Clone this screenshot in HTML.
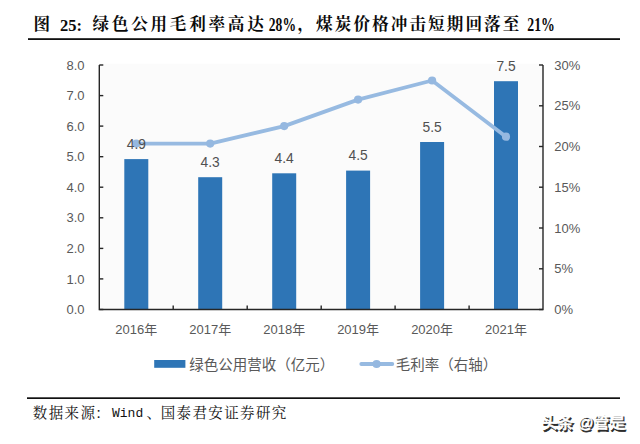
<!DOCTYPE html>
<html lang="zh"><head><meta charset="utf-8"><title>图 25</title>
<style>
html,body{margin:0;padding:0;background:#fff;}
body{width:640px;height:444px;overflow:hidden;}
svg{display:block}
.ax{font-family:"Liberation Sans","Noto Sans CJK SC",sans-serif;font-size:13px;fill:#595959}
.dl{font-family:"Liberation Sans",sans-serif;font-size:13.8px;fill:#505050}
.lg{font-family:"Liberation Sans","Noto Sans CJK SC",sans-serif;font-size:14.5px;fill:#595959}
.ttl{font-family:"Noto Serif CJK SC","Liberation Serif",serif;font-weight:700;font-size:16.6px;fill:#0a0a0a;text-anchor:middle}
.tn{font-family:"Liberation Serif",serif;font-weight:700;font-size:16.5px;fill:#0a0a0a}
.src{font-family:"Noto Serif CJK SC","Liberation Serif",serif;font-size:14.5px;font-weight:400;fill:#111;text-anchor:middle}
.tk{font-family:"Liberation Serif",serif;font-weight:700;font-size:19px;fill:#0a0a0a}
.mono{font-family:"Liberation Mono",monospace;font-size:13px;fill:#111}
.wm{font-family:"Liberation Sans","Noto Sans CJK SC",sans-serif;font-size:15.8px;font-weight:500}
</style></head><body>
<svg width="640" height="444" viewBox="0 0 640 444">
<rect width="640" height="444" fill="#ffffff"/>

<text class="ttl" x="41.8" y="30.3">图</text>
<text class="tn" x="60" y="31">25:</text>
<text class="ttl" x="100.80 120.13 139.46 158.79 178.12 197.45 216.78 236.11 255.44" y="30.3">绿色公用毛利率高达</text>
<text class="tk" x="268.8" y="31" textLength="27.2" lengthAdjust="spacingAndGlyphs">28%</text>
<text class="ttl" x="305.7" y="30.3">，</text>
<text class="ttl" x="324.40 343.06 361.72 380.38 399.04 417.70 436.36 455.02 473.68 492.34 511.00" y="30.3">煤炭价格冲击短期回落至</text>
<text class="tk" x="527.3" y="31" textLength="27.6" lengthAdjust="spacingAndGlyphs">21%</text>
<rect x="28" y="38.2" width="592" height="1.8" fill="#111"/>
<rect x="99.3" y="63.8" width="443.7" height="245.7" fill="#fbfbfb"/>
<rect x="124.3" y="159.1" width="24" height="150.4" fill="#2e75b6"/>
<rect x="198.2" y="177.2" width="24" height="132.3" fill="#2e75b6"/>
<rect x="272.2" y="173.3" width="24" height="136.2" fill="#2e75b6"/>
<rect x="346.1" y="170.6" width="24" height="138.9" fill="#2e75b6"/>
<rect x="420.1" y="142.0" width="24" height="167.5" fill="#2e75b6"/>
<rect x="494.0" y="81.2" width="24" height="228.3" fill="#2e75b6"/>
<path d="M99.3 65.0V309.5H543.0V65.0" fill="none" stroke="#262626" stroke-width="1.4"/>
<path d="M99.3 309.5h4" stroke="#262626" stroke-width="1.4"/>
<text class="ax" x="84.6" y="314.1" text-anchor="end">0.0</text>
<path d="M99.3 278.9h4" stroke="#262626" stroke-width="1.4"/>
<text class="ax" x="84.6" y="283.5" text-anchor="end">1.0</text>
<path d="M99.3 248.4h4" stroke="#262626" stroke-width="1.4"/>
<text class="ax" x="84.6" y="253.0" text-anchor="end">2.0</text>
<path d="M99.3 217.8h4" stroke="#262626" stroke-width="1.4"/>
<text class="ax" x="84.6" y="222.4" text-anchor="end">3.0</text>
<path d="M99.3 187.2h4" stroke="#262626" stroke-width="1.4"/>
<text class="ax" x="84.6" y="191.8" text-anchor="end">4.0</text>
<path d="M99.3 156.7h4" stroke="#262626" stroke-width="1.4"/>
<text class="ax" x="84.6" y="161.3" text-anchor="end">5.0</text>
<path d="M99.3 126.1h4" stroke="#262626" stroke-width="1.4"/>
<text class="ax" x="84.6" y="130.7" text-anchor="end">6.0</text>
<path d="M99.3 95.6h4" stroke="#262626" stroke-width="1.4"/>
<text class="ax" x="84.6" y="100.2" text-anchor="end">7.0</text>
<path d="M99.3 65.0h4" stroke="#262626" stroke-width="1.4"/>
<text class="ax" x="84.6" y="69.6" text-anchor="end">8.0</text>
<path d="M543.0 309.5h-4" stroke="#262626" stroke-width="1.4"/>
<text class="ax" x="554.3" y="314.1">0%</text>
<path d="M543.0 268.8h-4" stroke="#262626" stroke-width="1.4"/>
<text class="ax" x="554.3" y="273.4">5%</text>
<path d="M543.0 228.0h-4" stroke="#262626" stroke-width="1.4"/>
<text class="ax" x="554.3" y="232.6">10%</text>
<path d="M543.0 187.2h-4" stroke="#262626" stroke-width="1.4"/>
<text class="ax" x="554.3" y="191.8">15%</text>
<path d="M543.0 146.5h-4" stroke="#262626" stroke-width="1.4"/>
<text class="ax" x="554.3" y="151.1">20%</text>
<path d="M543.0 105.8h-4" stroke="#262626" stroke-width="1.4"/>
<text class="ax" x="554.3" y="110.3">25%</text>
<path d="M543.0 65.0h-4" stroke="#262626" stroke-width="1.4"/>
<text class="ax" x="554.3" y="69.6">30%</text>
<path d="M173.2 309.5v-4" stroke="#262626" stroke-width="1.4"/>
<path d="M247.2 309.5v-4" stroke="#262626" stroke-width="1.4"/>
<path d="M321.2 309.5v-4" stroke="#262626" stroke-width="1.4"/>
<path d="M395.1 309.5v-4" stroke="#262626" stroke-width="1.4"/>
<path d="M469.1 309.5v-4" stroke="#262626" stroke-width="1.4"/>
<polyline fill="none" stroke="#97bae1" stroke-width="3.8" stroke-linejoin="round" stroke-linecap="round" points="136.3,143.6 210.2,143.6 284.2,126.1 358.1,99.6 432.1,80.5 506.0,136.7"/>
<circle cx="136.3" cy="143.6" r="4.1" fill="#95b8e0"/>
<circle cx="210.2" cy="143.6" r="4.1" fill="#95b8e0"/>
<circle cx="284.2" cy="126.1" r="4.1" fill="#95b8e0"/>
<circle cx="358.1" cy="99.6" r="4.1" fill="#95b8e0"/>
<circle cx="432.1" cy="80.5" r="4.1" fill="#95b8e0"/>
<circle cx="506.0" cy="136.7" r="4.1" fill="#95b8e0"/>
<text class="dl" x="136.3" y="148.8" text-anchor="middle">4.9</text>
<text class="dl" x="210.2" y="166.9" text-anchor="middle">4.3</text>
<text class="dl" x="284.2" y="163.0" text-anchor="middle">4.4</text>
<text class="dl" x="358.1" y="160.3" text-anchor="middle">4.5</text>
<text class="dl" x="432.1" y="131.7" text-anchor="middle">5.5</text>
<text class="dl" x="506.0" y="70.9" text-anchor="middle">7.5</text>
<text class="ax" x="136.3" y="334.1" text-anchor="middle">2016年</text>
<text class="ax" x="210.2" y="334.1" text-anchor="middle">2017年</text>
<text class="ax" x="284.2" y="334.1" text-anchor="middle">2018年</text>
<text class="ax" x="358.1" y="334.1" text-anchor="middle">2019年</text>
<text class="ax" x="432.1" y="334.1" text-anchor="middle">2020年</text>
<text class="ax" x="506.0" y="334.1" text-anchor="middle">2021年</text>
<rect x="154.2" y="360" width="31.2" height="7.8" fill="#2e75b6"/>
<text class="lg" x="189.3" y="369.7">绿色公用营收（亿元）</text>
<path d="M361.3 364h31" stroke="#97bae1" stroke-width="3.8" stroke-linecap="round"/>
<circle cx="376.6" cy="364" r="4.1" fill="#95b8e0"/>
<text class="lg" x="395.8" y="369.7">毛利率（右轴）</text>
<rect x="27" y="397.3" width="593" height="1.7" fill="#111"/>
<text class="src" x="40.00 55.90 71.80 87.70" y="417.9">数据来源</text>
<text class="src" x="102.5" y="417.9">：</text>
<text class="mono" x="112" y="417.09999999999997">Wind</text>
<text class="src" x="153.7" y="417.9">、</text>
<text class="src" x="168.00 183.87 199.74 215.61 231.48 247.35 263.22 279.09" y="417.9">国泰君安证券研究</text>
<text class="wm" x="543.0" y="429.6" fill="#2c2c2c" stroke="#2c2c2c" stroke-width="0.7">头条 @管是</text>
<text class="wm" x="541.6" y="428.2" fill="#fff" stroke="#fff" stroke-width="0.5">头条 @管是</text>
</svg></body></html>
